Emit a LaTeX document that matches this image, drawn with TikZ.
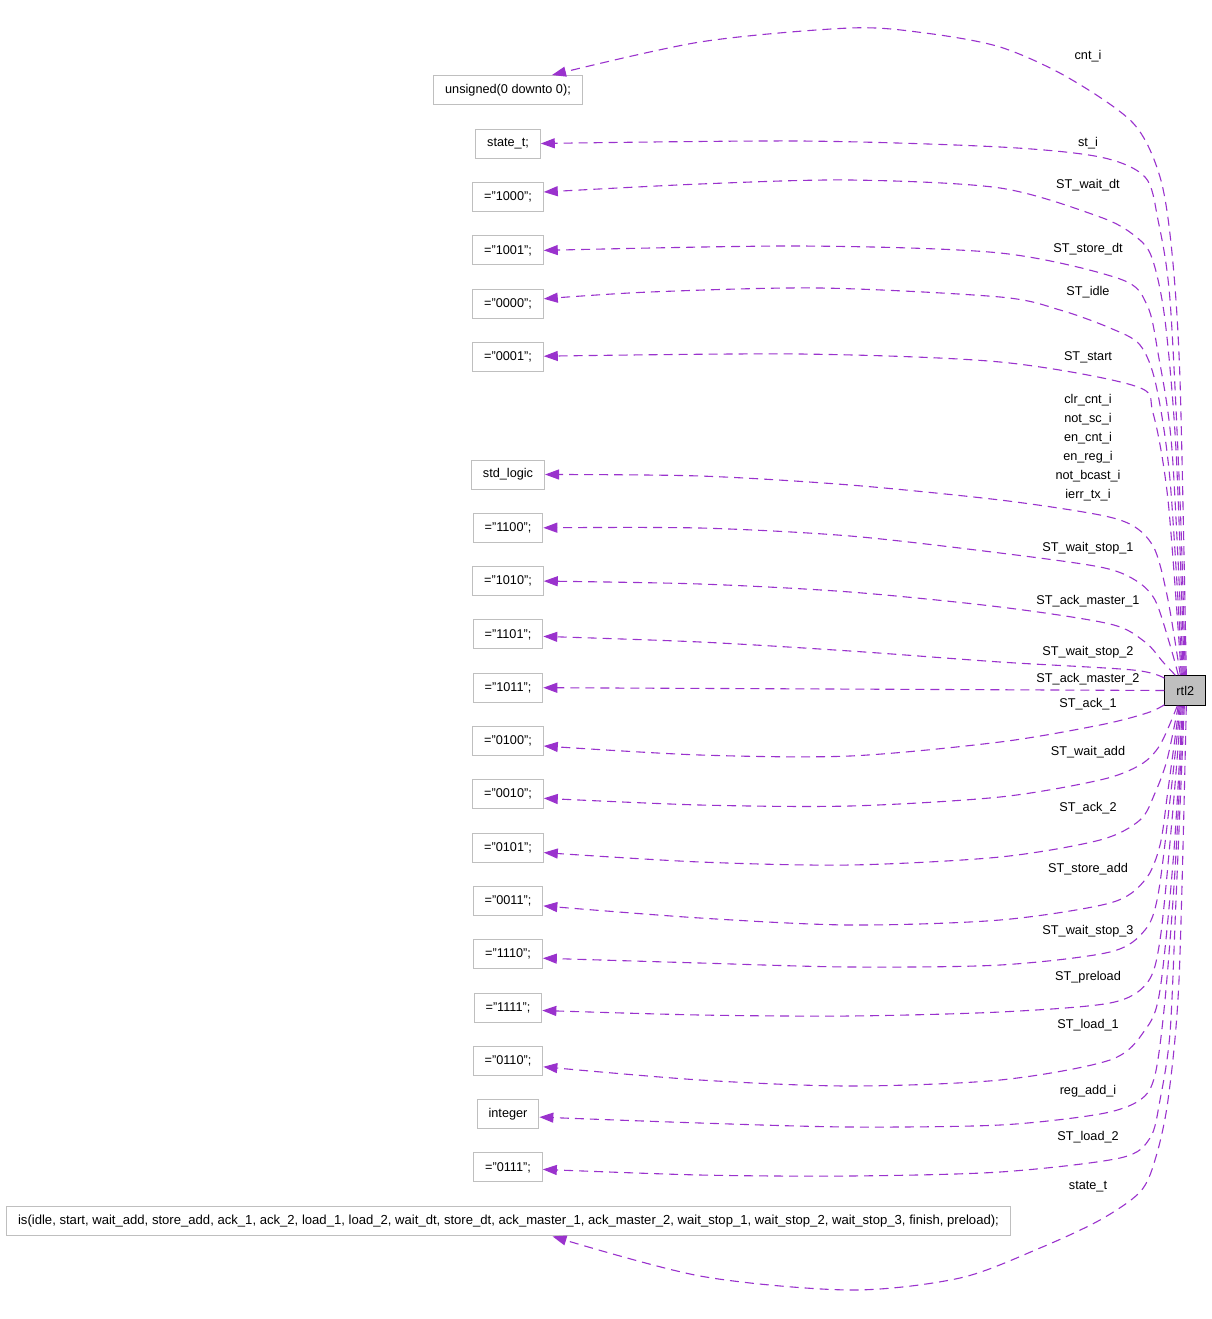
\documentclass[tikz,border=0pt]{standalone}
\usepackage{fontspec}
\setmainfont{Liberation Sans}
\usetikzlibrary{arrows.meta}
\definecolor{edgepurple}{HTML}{9A32CD}
\definecolor{boxgray}{HTML}{BFBFBF}
\tikzset{
  val/.style={draw=boxgray, line width=0.9pt, fill=white, minimum height=29pt, inner xsep=11.5pt, inner ysep=0pt},
  dep/.style={edgepurple, line width=1.1pt, dash pattern=on 9pt off 6pt, -{Triangle[length=14pt,width=10pt]}},
  lbl/.style={inner sep=0pt}
}
\begin{document}
\begin{tikzpicture}[x=1pt, y=-1pt, every node/.style={font=\fontsize{12.7}{15}\selectfont}]
      \useasboundingbox (0,0) rectangle (1211,1319);
      % value boxes on the left
      \node[val] (unsig) at (508,90) {unsigned(0 downto 0);};
      \node[val] (statety) at (508,143.5) {state\_t;};
      \node[val] (c1000) at (508,197) {="1000";};
      \node[val] (c1001) at (508,250.4) {="1001";};
      \node[val] (c0000) at (508,303.8) {="0000";};
      \node[val] (c0001) at (508,357.2) {="0001";};
      \node[val] (stdl) at (508,474.5) {std\_logic};
      \node[val] (c1100) at (508,527.8) {="1100";};
      \node[val] (c1010) at (508,581.1) {="1010";};
      \node[val] (c1101) at (508,634.4) {="1101";};
      \node[val] (c1011) at (508,687.7) {="1011";};
      \node[val] (c0100) at (508,741) {="0100";};
      \node[val] (c0010) at (508,794.3) {="0010";};
      \node[val] (c0101) at (508,847.6) {="0101";};
      \node[val] (c0011) at (508,900.9) {="0011";};
      \node[val] (c1110) at (508,954.2) {="1110";};
      \node[val] (c1111) at (508,1007.5) {="1111";};
      \node[val] (c0110) at (508,1060.8) {="0110";};
      \node[val] (integ) at (508,1114.1) {integer};
      \node[val] (c0111) at (508,1167.4) {="0111";};
      \node[val, font=\fontsize{13.1}{15}\selectfont] (enumis) at (508.5,1221.4) {is(idle, start, wait\_add, store\_add, ack\_1, ack\_2, load\_1, load\_2, wait\_dt, store\_dt, ack\_master\_1, ack\_master\_2, wait\_stop\_1, wait\_stop\_2, wait\_stop\_3, finish, preload);};
      % rtl2 box
      \node[draw=black, fill=boxgray, line width=1pt, minimum width=40.7pt, minimum height=29.6pt, inner sep=0pt] (rtl2) at (1185.3,690.5) {rtl2};
      % edges going up
      \draw[dep] plot[smooth] coordinates {([xshift=1pt]rtl2.north) (1180,380) (1172,253) (1160,177) (1133,123) (1067,77) (1000,47) (925,33) (850,28) (700,42) ([xshift=44pt]unsig.north)};
      \draw[dep] plot[smooth] coordinates {(rtl2.north) (1180,500) (1170,300) (1158,220) (1145,177) (1100,157) (1000,147) (800,141) (statety.east)};
      \draw[dep] plot[smooth] coordinates {([xshift=-1pt]rtl2.north) (1176,450) (1165,320) (1152,258) (1135,236) (1100,217) (1000,188) (850,180) (700,184) ([yshift=5pt]c1000.east)};
      \draw[dep] plot[smooth] coordinates {([xshift=-2pt]rtl2.north) (1172,450) (1158,353) (1147,305) (1120,279) (1000,253) (800,246) (c1001.east)};
      \draw[dep] plot[smooth] coordinates {([xshift=-3pt]rtl2.north) (1170,480) (1156,385) (1140,345) (1110,328) (1060,310) (1000,297) (820,288) (650,292) ([yshift=5pt]c0000.east)};
      \draw[dep] plot[smooth] coordinates {([xshift=-4pt]rtl2.north) (1168,500) (1153,413) (1135,386) (1000,362) (800,354) ([yshift=1pt]c0001.east)};
      \draw[dep] plot[smooth] coordinates {([xshift=-5pt]rtl2.north) (1168,600) (1155,550) (1135,527) (1100,515) (1000,500) (850,485) (700,476) (stdl.east)};
      \draw[dep] plot[smooth] coordinates {([xshift=-7pt]rtl2.north) (1170,645) (1155,600) (1135,580) (1100,567) (1000,553) (850,536) (700,528) (c1100.east)};
      \draw[dep] plot[smooth] coordinates {([xshift=-10pt]rtl2.north) (1163,662) (1145,642) (1110,624) (1000,607) (850,592) (700,584) (c1010.east)};
      \draw[dep] plot[smooth] coordinates {([yshift=-3pt]rtl2.north west) (1133,670) (1000,662) (850,651) (700,642) ([yshift=-2pt]c1101.east)};
      \draw[dep] (rtl2.west) -- (c1011.east);
      % edges going down
      \draw[dep] plot[smooth] coordinates {([yshift=1pt]rtl2.south west) (1147,713) (1100,725) (1000,742) (850,756) (700,755) ([yshift=-5pt]c0100.east)};
      \draw[dep] plot[smooth] coordinates {([xshift=-8pt]rtl2.south) (1160,745) (1140,765) (1100,780) (1000,797) (850,806) (700,805) ([yshift=-4pt]c0010.east)};
      \draw[dep] plot[smooth] coordinates {([xshift=-7pt]rtl2.south) (1167,760) (1155,793) (1140,820) (1100,840) (1000,857) (850,865) (700,862) ([yshift=-5pt]c0101.east)};
      \draw[dep] plot[smooth] coordinates {([xshift=-6pt]rtl2.south) (1168,790) (1160,845) (1145,880) (1110,903) (1000,920) (850,925) (700,918) ([yshift=-5pt]c0011.east)};
      \draw[dep] plot[smooth] coordinates {([xshift=-5pt]rtl2.south) (1170,800) (1158,895) (1145,930) (1110,952) (1000,965) (850,967) (700,963) ([yshift=-4pt]c1110.east)};
      \draw[dep] plot[smooth] coordinates {([xshift=-4pt]rtl2.south) (1172,820) (1160,940) (1147,983) (1110,1003) (1000,1012) (850,1016) (700,1015) ([yshift=-3pt]c1111.east)};
      \draw[dep] plot[smooth] coordinates {([xshift=-3pt]rtl2.south) (1174,850) (1160,990) (1145,1030) (1110,1060) (1000,1080) (850,1086) (700,1080) ([yshift=-6pt]c0110.east)};
      \draw[dep] plot[smooth] coordinates {([xshift=-2pt]rtl2.south) (1175,870) (1165,1000) (1155,1075) (1140,1100) (1100,1114) (1000,1125) (850,1127) (700,1123) ([yshift=-3pt]integ.east)};
      \draw[dep] plot[smooth] coordinates {([xshift=-1pt]rtl2.south) (1176,900) (1170,1033) (1160,1100) (1150,1138) (1120,1158) (1000,1172) (850,1176) (700,1175) ([yshift=-2pt]c0111.east)};
      \draw[dep] plot[smooth] coordinates {([xshift=1pt]rtl2.south) (1179,980) (1168,1100) (1155,1160) (1140,1192) (1100,1220) (1040,1248) (960,1278) (850,1290) (700,1276) ([xshift=44pt]enumis.south)};
      % edge labels
      \node[lbl] (lcnt) at (1088,55.7) {cnt\_i};
      \node[lbl] (lst) at (1088,143) {st\_i};
      \node[lbl] (lwaitdt) at (1088,185) {ST\_wait\_dt};
      \node[lbl] (lstoredt) at (1088,249) {ST\_store\_dt};
      \node[lbl] (lidle) at (1088,292) {ST\_idle};
      \node[lbl] (lstart) at (1088,357) {ST\_start};
      \node[lbl, align=center, font=\fontsize{12.7}{18.86}\selectfont] (lsig) at (1088,447.8) {clr\_cnt\_i\\not\_sc\_i\\en\_cnt\_i\\en\_reg\_i\\not\_bcast\_i\\ierr\_tx\_i};
      \node[lbl] (lwaitsa) at (1088,548) {ST\_wait\_stop\_1};
      \node[lbl] (lackma) at (1088,601) {ST\_ack\_master\_1};
      \node[lbl] (lwaitsb) at (1088,652) {ST\_wait\_stop\_2};
      \node[lbl] (lackmb) at (1088,679.5) {ST\_ack\_master\_2};
      \node[lbl] (lacka) at (1088,704) {ST\_ack\_1};
      \node[lbl] (lwaitadd) at (1088,752) {ST\_wait\_add};
      \node[lbl] (lackb) at (1088,808) {ST\_ack\_2};
      \node[lbl] (lstoreadd) at (1088,869) {ST\_store\_add};
      \node[lbl] (lwaitsc) at (1088,931) {ST\_wait\_stop\_3};
      \node[lbl] (lpreload) at (1088,977) {ST\_preload};
      \node[lbl] (lloada) at (1088,1025) {ST\_load\_1};
      \node[lbl] (lregadd) at (1088,1091) {reg\_add\_i};
      \node[lbl] (lloadb) at (1088,1137) {ST\_load\_2};
      \node[lbl] (lstatet) at (1088,1187) {state\_t};
\end{tikzpicture}
\end{document}
